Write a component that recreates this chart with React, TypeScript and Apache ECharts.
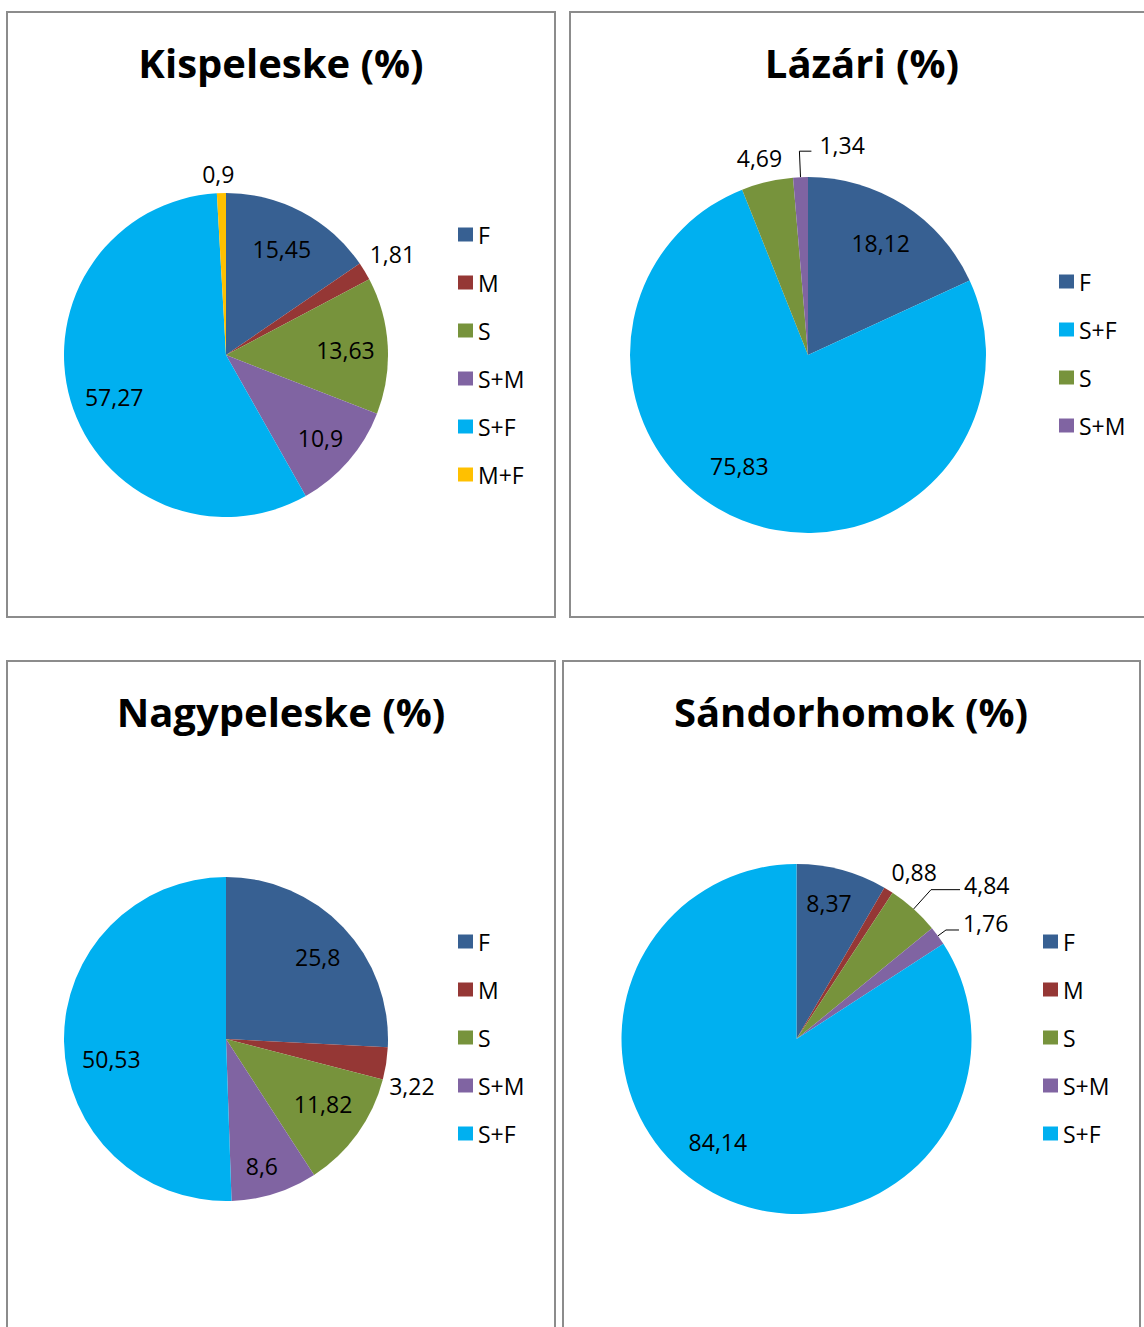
import React, { useEffect, useRef } from "react";
import * as echarts from "echarts";

// ---------- data ----------
const chartTitles = ["Kispeleske (%)", "Lázári (%)", "Nagypeleske (%)", "Sándorhomok (%)"];

const kispeleskeCategories = ["F", "M", "S", "S+M", "S+F", "M+F"];
const kispeleskeValues = [15.45, 1.81, 13.63, 10.9, 57.27, 0.9];

const lazariCategories = ["F", "S+F", "S", "S+M"];
const lazariValues = [18.12, 75.83, 4.69, 1.34];

const nagypeleskeCategories = ["F", "M", "S", "S+M", "S+F"];
const nagypeleskeValues = [25.8, 3.22, 11.82, 8.6, 50.53];

const sandorhomokCategories = ["F", "M", "S", "S+M", "S+F"];
const sandorhomokValues = [8.37, 0.88, 4.84, 1.76, 84.14];

// ---------- styles ----------
const categoryColors: Record<string, string> = {
  F: "#376092",
  M: "#953735",
  S: "#77933C",
  "S+M": "#8064A2",
  "S+F": "#00B0F0",
  "M+F": "#FFC000",
};
const FONT = "'Open Sans', sans-serif";

type LabelCfg = { out?: boolean; line?: [number, number]; gap?: number; off?: [number, number] };

const panels: any[] = [
  {
    title: chartTitles[0], categories: kispeleskeCategories, values: kispeleskeValues,
    box: [7, 12, 548, 605], titlePos: [281, 42], center: [226, 355], radius: 162, legendPos: [458, 223],
    labels: [
      { off: [0, 0] }, { out: true, off: [0, -17] }, { off: [0, 2] },
      { off: [4, 5] }, { off: [3, 8] }, { out: true, off: [18, -19] },
    ] as LabelCfg[],
  },
  {
    title: chartTitles[1], categories: lazariCategories, values: lazariValues,
    box: [570, 12, 600, 605], titlePos: [862, 42], center: [808, 355], radius: 178, legendPos: [1059, 270],
    labels: [
      { off: [2, -2] }, { off: [-20, -11] }, { out: true, off: [20, -24] },
      { out: true, line: [26, 12], gap: 8, off: [0, -6.5] },
    ] as LabelCfg[],
  },
  {
    title: chartTitles[2], categories: nagypeleskeCategories, values: nagypeleskeValues,
    box: [7, 661, 548, 700], titlePos: [281, 691], center: [226, 1039], radius: 162, legendPos: [458, 930],
    labels: [
      { off: [5, 0] }, { out: true, off: [-2, 22] }, { off: [0, -5] },
      { off: [0, 13] }, { off: [5, 18] },
    ] as LabelCfg[],
  },
  {
    title: chartTitles[3], categories: sandorhomokCategories, values: sandorhomokValues,
    box: [563, 661, 577, 700], titlePos: [851, 691], center: [796.5, 1039], radius: 175, legendPos: [1043, 930],
    labels: [
      { off: [-1, -11] }, { out: true, off: [-2, -18] },
      { out: true, line: [26, 29], gap: 4, off: [0, -5] },
      { out: true, line: [10, 13], gap: 4, off: [0, -6.5] },
      { off: [-17, -10] },
    ] as LabelCfg[],
  },
];

const fmt = (v: number) => String(v).replace(".", ",");

function buildOption() {
  const visibleSeries = panels.map((p) => ({
    type: "pie",
    center: p.center,
    radius: [0, p.radius],
    startAngle: 90,
    clockwise: true,
    silent: true,
    emphasis: { disabled: true },
    label: { show: false },
    labelLine: { show: false },
    itemStyle: { borderWidth: 0 },
    data: p.categories.map((name: string, i: number) => ({
      name,
      value: p.values[i],
      itemStyle: { color: categoryColors[name] },
    })),
  }));

  const labelSeries = panels.map((p) => ({
    type: "pie",
    center: p.center,
    radius: [p.radius * 0.44, p.radius],
    startAngle: 90,
    clockwise: true,
    silent: true,
    avoidLabelOverlap: false,
    emphasis: { disabled: true },
    itemStyle: { color: "rgba(0,0,0,0)", borderWidth: 0 },
    label: {
      show: true,
      color: "#000",
      fontSize: 23,
      fontFamily: FONT,
      formatter: (prm: any) => fmt(prm.value),
    },
    labelLine: { lineStyle: { color: "#000", width: 1 } },
    labelLayout: (params: any) => {
      const cfg: LabelCfg = p.labels[params.dataIndex];
      if (!cfg) return {};
      const off = cfg.off || [0, 0];
      if (cfg.line && params.labelLinePoints && params.labelLinePoints.length >= 2) {
        const pts = params.labelLinePoints;
        const bend = pts[1];
        const end = [bend[0] + cfg.line[1], bend[1]];
        return {
          x: end[0] + (cfg.gap || 5) + off[0],
          y: end[1] + off[1],
          align: "left",
          verticalAlign: "middle",
          labelLinePoints: [pts[0], bend, end],
        };
      }
      const r = params.labelRect;
      return { x: r.x + off[0], y: r.y + off[1], align: "left", verticalAlign: "top" };
    },
    data: p.categories.map((name: string, i: number) => {
      const cfg: LabelCfg = p.labels[i];
      return {
        name,
        value: p.values[i],
        label: { position: cfg.out ? "outside" : "inside" },
        labelLine: cfg.line
          ? { show: true, length: cfg.line[0], length2: cfg.line[1] }
          : { show: false, length: 0, length2: 0 },
      };
    }),
  }));

  return {
    animation: false,
    backgroundColor: "#ffffff",
    title: panels.map((p) => ({
      text: p.title,
      left: p.titlePos[0],
      top: p.titlePos[1],
      textAlign: "center",
      padding: 0,
      textStyle: { fontSize: 40, fontWeight: "bold", fontFamily: FONT, color: "#000" },
    })),
    legend: panels.map((p) => ({
      data: p.categories,
      orient: "vertical",
      left: p.legendPos[0],
      top: p.legendPos[1],
      padding: 0,
      icon: "rect",
      itemWidth: 15,
      itemHeight: 14,
      itemGap: 25,
      selectedMode: false,
      textStyle: { fontSize: 23, lineHeight: 23, fontFamily: FONT, color: "#000" },
    })),
    graphic: {
      elements: panels.map((p) => ({
        type: "rect",
        silent: true,
        z: -1,
        shape: { x: p.box[0], y: p.box[1], width: p.box[2], height: p.box[3] },
        style: { fill: "none", stroke: "#8c8c8c", lineWidth: 2 },
      })),
    },
    series: [...visibleSeries, ...labelSeries],
  };
}

export default function App() {
  const ref = useRef<HTMLDivElement>(null);
  useEffect(() => {
    if (!ref.current) return;
    const chart = echarts.init(ref.current, undefined, { renderer: "svg" });
    chart.setOption(buildOption() as any);
    return () => chart.dispose();
  }, []);
  return (
    <div
      ref={ref}
      style={{ position: "absolute", left: 0, top: 0, width: 1144, height: 1327, background: "#fff" }}
    />
  );
}
